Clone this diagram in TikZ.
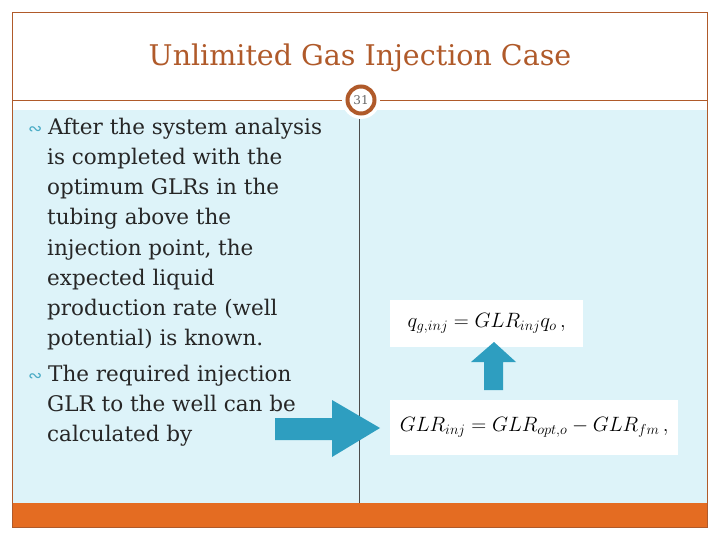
\documentclass[tikz,border=0pt]{standalone}
\usepackage{fontspec}
\setmainfont{DejaVu Serif}
\newfontfamily\symf{DejaVu Sans}
\usetikzlibrary{shapes.arrows}
\definecolor{ora}{HTML}{E46C22}
\definecolor{tit}{HTML}{B05A2A}
\definecolor{lb}{HTML}{DDF3F9}
\definecolor{arr}{HTML}{2E9EC0}
\definecolor{bul}{HTML}{4BACC6}
\tikzset{fbox/.style={fill=white,inner sep=0pt,anchor=north west},
 txt/.style={anchor=base west,inner sep=0pt,font=\fontsize{21.5}{25}\selectfont,text=black!85},
 bulx/.style={anchor=base west,inner sep=0pt,text=bul,font=\symf\fontsize{17}{17}\selectfont}}
\begin{document}
\begin{tikzpicture}[x=1pt,y=-1pt]
\useasboundingbox (0,0) rectangle (720,540);
\fill[white] (0,0) rectangle (720,540);
\fill[lb] (12,110) rectangle (707,503);
\fill[ora] (12,503) rectangle (707,527);
\draw[tit,line width=0.8pt] (12,12) rectangle (707,527);
\draw[tit,line width=0.8pt] (12,100) -- (707,100);
\draw[black!70,line width=0.8pt] (359,115) -- (359,503);
\node[circle,fill=white,minimum size=38pt,inner sep=0pt] (cw) at (361,100) {};
\node[circle,draw=tit,line width=4pt,fill=white,minimum size=27pt,inner sep=0pt,font=\fontsize{12}{12}\selectfont,text=black!60] (pg) at (361,100) {31};
\node[anchor=base,inner sep=0pt,text=tit,font=\fontsize{28.5}{30}\selectfont] (title) at (360,66) {Unlimited Gas Injection Case};
\node[bulx] (s1) at (28,135) {∾};
\node[txt] (b1) at (48,135) {After the system analysis};
\node[txt] (l2) at (47,165) {is completed with the};
\node[txt] (l3) at (47,195) {optimum GLRs in the};
\node[txt] (l4) at (47,225) {tubing above the};
\node[txt] (l5) at (47,255) {injection point, the};
\node[txt] (l6) at (47,285) {expected liquid};
\node[txt] (l7) at (47,315) {production rate (well};
\node[txt] (l8) at (47,345) {potential) is known.};
\node[bulx] (s2) at (28,381) {∾};
\node[txt] (b2) at (48,381) {The required injection};
\node[txt] (l10) at (47,411) {GLR to the well can be};
\node[txt] (l11) at (47,441) {calculated by};
\node[fbox,minimum width=193pt,minimum height=47pt] (f1) at (390,300) {};
\node[font=\fontsize{22}{22}\selectfont] at (f1.center) {$q_{g,inj} = GLR_{inj}q_o\,,$};
\node[fbox,minimum width=288pt,minimum height=55pt] (f2) at (390,400) {};
\node[font=\fontsize{22}{22}\selectfont] at (f2.center) {$GLR_{inj} = GLR_{opt,o} - GLR_{fm}\,,$};
\fill[arr] (275,418) -- (332,418) -- (332,400) -- (380,428) -- (332,457) -- (332,440) -- (275,440) -- cycle;
\fill[arr] (484,390) -- (484,362) -- (471,362) -- (494,342) -- (516,362) -- (503,362) -- (503,390) -- cycle;
\end{tikzpicture}
\end{document}
